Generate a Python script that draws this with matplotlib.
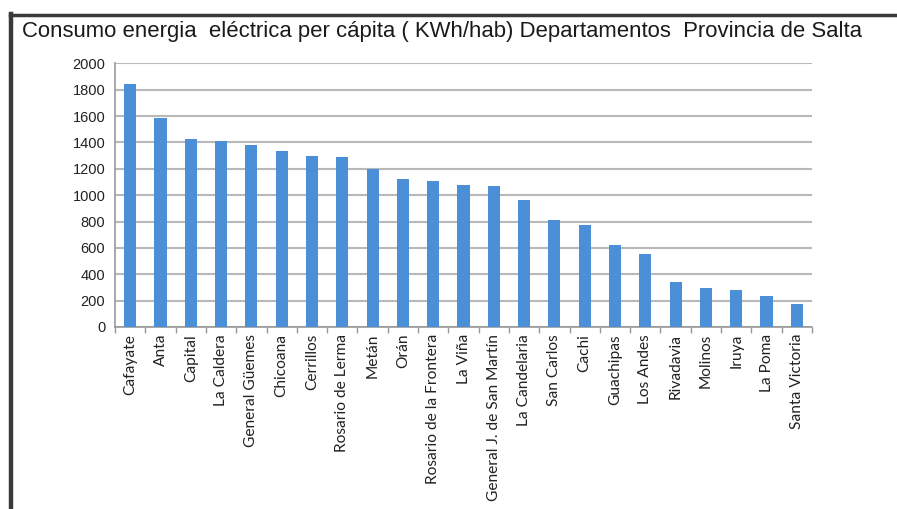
import matplotlib
matplotlib.use("Agg")
import matplotlib.pyplot as plt
import numpy as np

departamentos = ["Cafayate", "Anta", "Capital", "La Caldera", "General Güemes", "Chicoana",
                 "Cerrillos", "Rosario de Lerma", "Metán", "Orán", "Rosario de la Frontera",
                 "La Viña", "General J. de San Martín", "La Candelaria", "San Carlos", "Cachi",
                 "Guachipas", "Los Andes", "Rivadavia", "Molinos", "Iruya", "La Poma",
                 "Santa Victoria"]
consumo = [1841, 1588, 1425, 1413, 1382, 1334, 1296, 1286, 1198, 1119, 1109, 1079,
           1068, 960, 810, 775, 625, 557, 342, 294, 284, 233, 172]
yticks = [0, 200, 400, 600, 800, 1000, 1200, 1400, 1600, 1800, 2000]
titulo = "Consumo energia  eléctrica per cápita ( KWh/hab) Departamentos  Provincia de Salta"

W, H = 897, 509
fig = plt.figure(figsize=(W / 100, H / 100), dpi=100)
fig.patch.set_facecolor("white")

# frame lines (top and left)
fig.add_artist(plt.Line2D([10 / W, 1.0], [1 - 15 / H, 1 - 15 / H], color="#3a3a3a", lw=2.5,
                          transform=fig.transFigure))
fig.add_artist(plt.Line2D([11 / W, 11 / W], [0, 1 - 14 / H], color="#3a3a3a", lw=3.2,
                          transform=fig.transFigure))

fig.text(22 / W, 1 - 31 / H, titulo, fontsize=15.9, family="Liberation Sans",
         color="#1a1a1a", ha="left", va="center")

left, right = 115 / W, 812 / W
bottom, top = 1 - 327 / H, 1 - 63.3 / H
ax = fig.add_axes([left, bottom, right - left, top - bottom])

x = np.arange(len(departamentos))
ax.bar(x, consumo, width=0.4, color="#4A8FD8", zorder=3)
ax.set_xlim(-0.5, len(departamentos) - 0.5)
ax.set_ylim(0, 2000)
ax.set_yticks(yticks)
ax.set_yticklabels([str(v) for v in yticks], fontsize=10.5, family="Liberation Sans", color="#222222")
ax.yaxis.grid(True, color="#b8b8b8", lw=1.5, zorder=0)
ax.set_axisbelow(True)

ax.set_xticks(x)
ax.set_xticklabels(departamentos, rotation=90, fontsize=11.2, family="Lato", color="#222222",
                   va="top", ha="center")
ax.tick_params(axis="x", length=0, pad=5)
ax.set_xticks(np.arange(-0.5, len(departamentos), 1), minor=True)
ax.tick_params(axis="x", which="minor", length=4, color="#999999", width=1)
ax.tick_params(axis="y", length=0, pad=7)

for s in ["top", "right"]:
    ax.spines[s].set_visible(False)
for s in ["left", "bottom"]:
    ax.spines[s].set_color("#999999")
    ax.spines[s].set_linewidth(1.2)

fig.savefig("out.png", dpi=100)
